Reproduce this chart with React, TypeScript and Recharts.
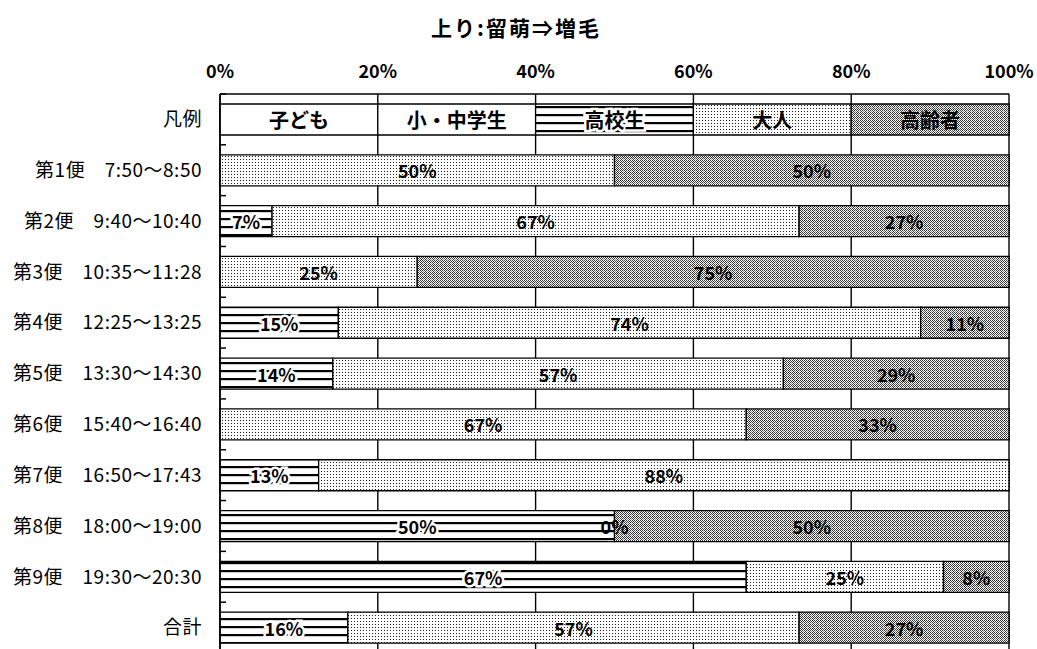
import {
  BarChart,
  Bar,
  XAxis,
  YAxis,
  CartesianGrid,
  LabelList,
  ReferenceDot,
} from "recharts";

const CATEGORIES = [
  "凡例",
  "第1便　7:50〜8:50",
  "第2便　9:40〜10:40",
  "第3便　10:35〜11:28",
  "第4便　12:25〜13:25",
  "第5便　13:30〜14:30",
  "第6便　15:40〜16:40",
  "第7便　16:50〜17:43",
  "第8便　18:00〜19:00",
  "第9便　19:30〜20:30",
  "合計",
];

const SERIES = ["子ども", "小・中学生", "高校生", "大人", "高齢者"];

// percent shares per row (first row = legend, 20% each)
const KODOMO = [20, null, null, null, null, null, null, null, null, null, null];
const SHOCHU = [20, null, null, null, null, null, null, null, null, null, null];
const KOKO = [20, null, 6.6, null, 15, 14.3, null, 12.5, 50, 66.7, 16.2];
const OTONA = [20, 50, 66.8, 25, 73.8, 57.1, 66.7, 87.5, 0, 25, 57.2];
const KOREI = [20, 50, 26.6, 75, 11.2, 28.6, 33.3, null, 50, 8.3, 26.6];

const VALUES = [KODOMO, SHOCHU, KOKO, OTONA, KOREI];
const FILLS = ["#fff", "#fff", "url(#lines)", "url(#dots)", "url(#cross)"];
const TICKS = [0, 20, 40, 60, 80, 100];

const pct = (v: number) => `${Math.round(v)}%`;

const data = CATEGORIES.map((name, i) => {
  const row: Record<string, string | number | undefined> = { name };
  SERIES.forEach((s, k) => {
    const v = VALUES[k][i];
    row[s] = v ?? 0;
    row[`lbl${k}`] = i === 0 ? s : v == null ? undefined : pct(v);
  });
  return row;
});

// zero-width segments still carry a label (e.g. 第8便 大人 0%)
const zeroLabels: { x: number; y: string; text: string }[] = [];
VALUES.forEach((vals, k) => {
  vals.forEach((v, i) => {
    if (v === 0) {
      let x = 0;
      for (let j = 0; j < k; j++) x += VALUES[j][i] ?? 0;
      zeroLabels.push({ x, y: CATEGORIES[i], text: pct(v) });
    }
  });
});

const FONT = "'Noto Sans CJK JP', 'Noto Sans', sans-serif";

function LabelText({ cx, cy, text, halo, size }: any) {
  return (
    <text
      x={cx}
      y={cy}
      textAnchor="middle"
      dominantBaseline="central"
      fontSize={size}
      fontWeight="bold"
      fontFamily={FONT}
      fill="#000"
      stroke={halo ? "#fff" : "none"}
      strokeWidth={halo ? 5 : 0}
      paintOrder="stroke"
    >
      {text}
    </text>
  );
}

function makeLabel(k: number) {
  return (p: any) => {
    if (p.value == null || p.value === "") return null;
    const vb = p.viewBox ?? p;
    const isLegend = SERIES.includes(p.value);
    return (
      <LabelText
        key={`l-${k}-${p.index}`}
        cx={vb.x + vb.width / 2}
        cy={vb.y + vb.height / 2}
        text={p.value}
        halo={k === 2}
        size={isLegend ? 20 : 18}
      />
    );
  };
}

// row boundaries, used for the short inward ticks on the left axis
const rowEdges = (args: any) => {
  const off = args.offset ?? args;
  const n = CATEGORIES.length;
  return Array.from({ length: n + 1 }, (_, i) => off.top + (off.height * i) / n);
};

export default function App() {
  return (
    <div
      style={{
        position: "absolute",
        left: 0,
        top: 0,
        width: 1037,
        height: 649,
        overflow: "hidden",
        background: "#fff",
        fontFamily: FONT,
      }}
    >
      <div
        style={{
          position: "absolute",
          left: 0,
          top: 14,
          width: 1032,
          textAlign: "center",
          fontSize: 21,
          letterSpacing: 2,
          fontWeight: "bold",
          lineHeight: "26px",
        }}
      >
        上り:留萌⇒増毛
      </div>
      <BarChart
        width={1037}
        height={660}
        data={data}
        layout="vertical"
        margin={{ top: 0, right: 28, bottom: 7, left: 0 }}
      >
        <defs>
          <pattern id="lines" width="8" height="8" patternUnits="userSpaceOnUse">
            <rect width="8" height="8" fill="#fff" />
            <rect y="2" width="8" height="2.2" fill="#000" />
          </pattern>
          <pattern id="dots" width="3" height="3" patternUnits="userSpaceOnUse">
            <rect width="3" height="3" fill="#fff" />
            <rect width="1" height="1" fill="#222" />
          </pattern>
          <pattern id="cross" width="4" height="4" patternUnits="userSpaceOnUse">
            <rect width="4" height="4" fill="#fff" />
            <rect x="0" y="0" width="1" height="1" fill="#333" />
            <rect x="2" y="0" width="1" height="1" fill="#333" />
            <rect x="1" y="1" width="1" height="1" fill="#333" />
            <rect x="3" y="1" width="1" height="1" fill="#333" />
            <rect x="0" y="2" width="1" height="1" fill="#333" />
            <rect x="2" y="2" width="1" height="1" fill="#333" />
            <rect x="1" y="3" width="1" height="1" fill="#333" />
            <rect x="3" y="3" width="1" height="1" fill="#888" />
          </pattern>
        </defs>
        <CartesianGrid vertical horizontal={false} stroke="#000" strokeWidth={1.4} />
        <CartesianGrid
          vertical={false}
          horizontal
          horizontalCoordinatesGenerator={rowEdges}
          stroke="#000"
          strokeWidth={1.5}
          strokeDasharray="6 3000"
        />
        <XAxis
          type="number"
          orientation="top"
          domain={[0, 100]}
          ticks={TICKS}
          tickFormatter={(v) => `${v}%`}
          height={94}
          axisLine={{ stroke: "#000", strokeWidth: 1.5 }}
          tickLine={false}
          tickMargin={10}
          tick={{ fill: "#000", fontSize: 18, fontWeight: "bold", fontFamily: FONT }}
          interval={0}
        />
        <YAxis
          type="category"
          dataKey="name"
          width={220}
          axisLine={{ stroke: "#000", strokeWidth: 1.5 }}
          tickLine={false}
          tickMargin={12}
          tick={{
            fill: "#000",
            fontSize: 19,
            fontFamily: FONT,
            letterSpacing: 0.5,
          }}
          interval={0}
        />
        {SERIES.map((s, k) => (
          <Bar
            key={s}
            dataKey={s}
            stackId="a"
            fill={FILLS[k]}
            stroke="#000"
            strokeWidth={1.3}
            barSize={31}
            isAnimationActive={false}
          >
            <LabelList dataKey={`lbl${k}`} content={makeLabel(k)} />
          </Bar>
        ))}
        {zeroLabels.map((z) => (
          <ReferenceDot
            key={`${z.y}-${z.x}`}
            x={z.x}
            y={z.y}
            r={1}
            fill="none"
            stroke="none"
            ifOverflow="visible"
            label={(p: any) => (
              <LabelText
                cx={p.viewBox.x + p.viewBox.width / 2}
                cy={p.viewBox.y + p.viewBox.height / 2}
                text={z.text}
                halo={false}
                size={18}
              />
            )}
          />
        ))}
      </BarChart>
    </div>
  );
}
